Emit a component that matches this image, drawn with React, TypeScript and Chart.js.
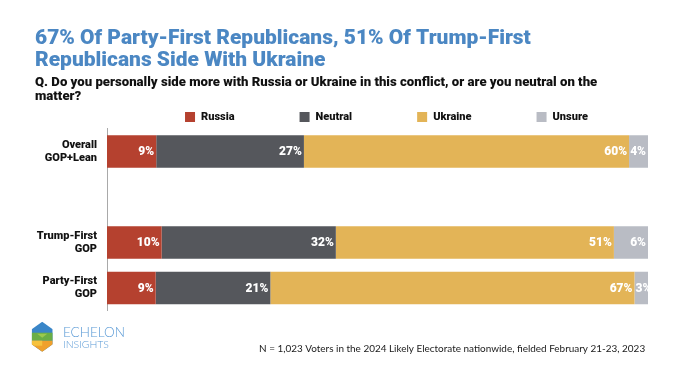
import React, { useEffect, useRef } from "react";
import { Chart, registerables } from "chart.js";

Chart.register(...registerables);

// ---- data ----
const categories: (string | string[])[] = [
  ["Overall", "GOP+Lean"],
  "",
  ["Trump-First", "GOP"],
  ["Party-First", "GOP"],
];
const seriesNames = ["Russia", "Neutral", "Ukraine", "Unsure"];
const russia = [9.1, null, 10.1, 9.0];
const neutral = [27.3, null, 32.2, 21.2];
const ukraine = [60.1, null, 51.4, 67.3];
const unsure = [3.5, null, 6.3, 2.5];
const seriesColors = ["#b5412f", "#55575c", "#e3b457", "#b9bcc4"];

const titleLines = [
  "67% Of Party-First Republicans, 51% Of Trump-First",
  "Republicans Side With Ukraine",
];
const subtitleLines = [
  "Q. Do you personally side more with Russia or Ukraine in this conflict, or are you neutral on the",
  "matter?",
];
const footnote =
  "N = 1,023 Voters in the 2024 Likely Electorate nationwide, fielded February 21-23, 2023";
const logoLines = ["ECHELON", "INSIGHTS"];

const FAM = "Roboto, Lato, sans-serif";
const LIGHT_FAM = "Lato, Roboto, sans-serif";
const HEAVY = "900";

function hasFont(ctx: CanvasRenderingContext2D, fam: string) {
  const s = "abcdefghijklmnopqrstuvwxyzABCDEFGHIJ0123456789";
  ctx.font = "40px monospace";
  const a = ctx.measureText(s).width;
  ctx.font = `40px "${fam}", monospace`;
  const b = ctx.measureText(s).width;
  return Math.abs(a - b) > 0.5;
}

function fit(
  ctx: CanvasRenderingContext2D,
  text: string,
  font: (s: number) => string,
  target: number
) {
  ctx.font = font(20);
  const w = ctx.measureText(text).width;
  return (20 * target) / w;
}

export default function App() {
  const ref = useRef<HTMLCanvasElement | null>(null);

  useEffect(() => {
    const canvas = ref.current;
    if (!canvas) return;
    const mctx = document.createElement("canvas").getContext("2d")!;
    const narrow = hasFont(mctx, "Liberation Sans Narrow")
      ? "'Liberation Sans Narrow'"
      : LIGHT_FAM;

    const titleSize = fit(mctx, titleLines[0], (s) => `${HEAVY} ${s}px ${FAM}`, 496);
    const subSize = fit(mctx, subtitleLines[0], (s) => `${HEAVY} ${s}px ${FAM}`, 563);
    const footSize = fit(mctx, footnote, (s) => `${s}px ${narrow}`, 387);
    const logo1 = fit(mctx, logoLines[0], (s) => `300 ${s}px ${LIGHT_FAM}`, 62);
    const logo2 = fit(mctx, logoLines[1], (s) => `300 ${s}px ${LIGHT_FAM}`, 46);

    const valueLabels = {
      id: "valueLabels",
      afterDatasetsDraw(chart: any) {
        const ctx = chart.ctx;
        ctx.save();
        ctx.font = `${HEAVY} 12px ${FAM}`;
        ctx.fillStyle = "#ffffff";
        ctx.textAlign = "right";
        ctx.textBaseline = "middle";
        chart.data.datasets.forEach((ds: any, di: number) => {
          const meta = chart.getDatasetMeta(di);
          meta.data.forEach((bar: any, i: number) => {
            const v = ds.data[i];
            if (v == null) return;
            const p = bar.getProps(["x", "y", "base"], true);
            const text = Math.round(v) + "%";
            const w = ctx.measureText(text).width;
            const right = Math.max(p.x - 2, p.base + w + 1);
            ctx.fillText(text, right, p.y + 0.5);
          });
        });
        ctx.restore();
      },
    };

    const decor = {
      id: "decor",
      afterDraw(chart: any) {
        const ctx = chart.ctx as CanvasRenderingContext2D;
        ctx.save();
        // legend
        ctx.font = `${HEAVY} 11px ${FAM}`;
        ctx.textBaseline = "middle";
        ctx.textAlign = "left";
        const box = 10,
          gap = 6,
          spacing = 65;
        const items = chart.data.datasets.map((ds: any) => ({
          label: ds.label,
          color: ds.backgroundColor,
          w: ctx.measureText(ds.label).width,
        }));
        const total =
          items.reduce((s: number, it: any) => s + box + gap + it.w, 0) +
          spacing * (items.length - 1);
        let x = 386.5 - total / 2;
        const ly = 117;
        items.forEach((it: any) => {
          ctx.fillStyle = it.color;
          ctx.fillRect(x, ly - box / 2, box, box);
          ctx.fillStyle = "#111111";
          ctx.fillText(it.label, x + box + gap, ly);
          x += box + gap + it.w + spacing;
        });
        // footnote
        ctx.font = `${footSize}px ${narrow}`;
        ctx.fillStyle = "#1a1a1a";
        ctx.textBaseline = "alphabetic";
        ctx.fillText(footnote, 259, 351.5);
        // logo hexagon
        const cx = 42.2,
          cy = 336.7,
          rw = 10.5,
          rh = 15;
        ctx.beginPath();
        ctx.moveTo(cx, cy - rh);
        ctx.lineTo(cx + rw, cy - rh / 2);
        ctx.lineTo(cx + rw, cy + rh / 2);
        ctx.lineTo(cx, cy + rh);
        ctx.lineTo(cx - rw, cy + rh / 2);
        ctx.lineTo(cx - rw, cy - rh / 2);
        ctx.closePath();
        ctx.clip();
        ctx.fillStyle = "#3a86c8";
        ctx.fillRect(cx - rw, cy - rh, rw * 2, rh * 2);
        ctx.fillStyle = "#6aae46";
        ctx.fillRect(cx - rw, cy - 4, rw * 2, 8);
        ctx.fillStyle = "#9bc94e";
        ctx.beginPath();
        ctx.moveTo(cx - 5, cy - 3);
        ctx.lineTo(cx, cy + 1);
        ctx.lineTo(cx + 5, cy - 3);
        ctx.closePath();
        ctx.fill();
        ctx.fillStyle = "#f0a02c";
        ctx.fillRect(cx - rw, cy + 4, rw * 2, rh);
        ctx.fillStyle = "#f6c23e";
        ctx.fillRect(cx - rw, cy + 4, rw, 5);
        ctx.restore();
        ctx.save();
        ctx.fillStyle = "#5a9ad6";
        ctx.textAlign = "left";
        ctx.textBaseline = "alphabetic";
        ctx.font = `300 ${logo1}px ${LIGHT_FAM}`;
        ctx.fillText(logoLines[0], 63, 336.7);
        ctx.font = `300 ${logo2}px ${LIGHT_FAM}`;
        ctx.fillText(logoLines[1], 63, 347.5);
        ctx.restore();
      },
    };

    const series = [russia, neutral, ukraine, unsure];
    const chart = new Chart(canvas, {
      type: "bar",
      data: {
        labels: categories as any,
        datasets: series.map((d, i) => ({
          label: seriesNames[i],
          data: d as any,
          backgroundColor: seriesColors[i],
          borderWidth: 0,
          barPercentage: 0.71,
          categoryPercentage: 1,
        })),
      },
      options: {
        indexAxis: "y",
        responsive: false,
        animation: false,
        devicePixelRatio: 1,
        layout: { padding: { top: 0, left: 35, right: 32, bottom: 72.25 } },
        scales: {
          x: {
            stacked: true,
            min: 0,
            max: 100,
            display: false,
          },
          y: {
            stacked: true,
            grid: { display: false, drawTicks: false },
            border: { display: true, color: "#a9a9a9", width: 1 },
            ticks: {
              padding: 10,
              color: "#111111",
              font: { family: FAM, size: 11, weight: HEAVY as any, lineHeight: 1.2 },
            },
            afterFit(scale: any) {
              scale.width = 72;
            },
          },
        },
        plugins: {
          legend: { display: false },
          tooltip: { enabled: false },
          title: {
            display: true,
            text: titleLines,
            align: "start",
            color: "#4b87c3",
            font: {
              family: FAM,
              size: titleSize,
              weight: HEAVY as any,
              lineHeight: 22.5 / titleSize,
            },
            padding: { top: 27.5, bottom: 0 },
          },
          subtitle: {
            display: true,
            text: subtitleLines,
            align: "start",
            color: "#111111",
            font: {
              family: FAM,
              size: subSize,
              weight: HEAVY as any,
              lineHeight: 14 / subSize,
            },
            padding: { top: 2.9, bottom: 25.35 },
          },
        },
      },
      plugins: [valueLabels, decor],
    });
    return () => chart.destroy();
  }, []);

  return (
    <div
      style={{
        position: "fixed",
        left: 0,
        top: 0,
        width: 680,
        height: 383,
        background: "#ffffff",
      }}
    >
      <canvas ref={ref} width={680} height={383} style={{ width: 680, height: 383, display: "block" }} />
    </div>
  );
}
